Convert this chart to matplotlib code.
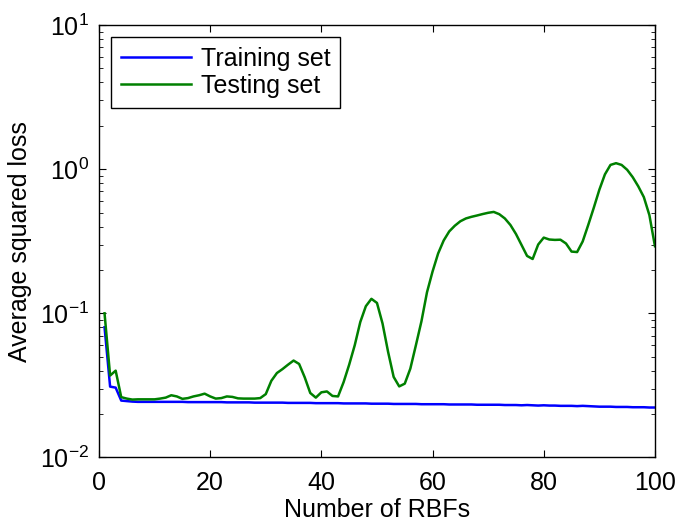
import numpy as np
import matplotlib
matplotlib.use("Agg")
import matplotlib.pyplot as plt
from matplotlib.ticker import LogLocator, LogFormatterMathtext, NullFormatter

plt.rcParams['font.family'] = ['Liberation Sans', 'DejaVu Sans']
plt.rcParams['mathtext.fontset'] = 'custom'
plt.rcParams['mathtext.rm'] = 'Liberation Sans'
plt.rcParams['mathtext.it'] = 'Liberation Sans'
plt.rcParams['mathtext.default'] = 'regular'

# number of RBFs
n_rbf = np.arange(1, 101)

# average squared loss on the training set
train_loss = [
    0.0800, 0.0310, 0.0305, 0.0248, 0.0246, 0.0244, 0.0243, 0.0243, 0.0243, 0.0243,
    0.0243, 0.0243, 0.0243, 0.0243, 0.0243, 0.0242, 0.0242, 0.0242, 0.0242, 0.0242,
    0.0242, 0.0242, 0.0241, 0.0241, 0.0241, 0.0241, 0.0241, 0.0240, 0.0240, 0.0240,
    0.0240, 0.0240, 0.0240, 0.0239, 0.0239, 0.0239, 0.0239, 0.0239, 0.0238, 0.0238,
    0.0238, 0.0238, 0.0238, 0.0237, 0.0237, 0.0237, 0.0237, 0.0237, 0.0236, 0.0236,
    0.0236, 0.0236, 0.0235, 0.0235, 0.0235, 0.0235, 0.0235, 0.0234, 0.0234, 0.0234,
    0.0234, 0.0234, 0.0233, 0.0233, 0.0233, 0.0233, 0.0233, 0.0232, 0.0232, 0.0232,
    0.0232, 0.0232, 0.0231, 0.0231, 0.0231, 0.0230, 0.0231, 0.0230, 0.0229, 0.0230,
    0.0229, 0.0229, 0.0228, 0.0228, 0.0228, 0.0227, 0.0228, 0.0227, 0.0226, 0.0225,
    0.0225, 0.0225, 0.0224, 0.0224, 0.0224, 0.0223, 0.0223, 0.0223, 0.0222, 0.0222,
]

# average squared loss on the testing set
test_loss = [
    0.1000, 0.0370, 0.0400, 0.0262, 0.0256, 0.0252, 0.0253, 0.0253, 0.0253, 0.0253,
    0.0256, 0.0260, 0.0270, 0.0265, 0.0255, 0.0258, 0.0265, 0.0270, 0.0277, 0.0265,
    0.0256, 0.0258, 0.0265, 0.0263, 0.0257, 0.0256, 0.0256, 0.0256, 0.0258, 0.0275,
    0.0340, 0.0385, 0.0410, 0.0440, 0.0470, 0.0445, 0.0360, 0.0280, 0.0260, 0.0283,
    0.0287, 0.0267, 0.0265, 0.0333, 0.0440, 0.0600, 0.0870, 0.1120, 0.1260, 0.1180,
    0.0850, 0.0540, 0.0362, 0.0311, 0.0325, 0.0413, 0.0600, 0.0880, 0.1400, 0.1950,
    0.2600, 0.3200, 0.3700, 0.4050, 0.4350, 0.4550, 0.4670, 0.4770, 0.4880, 0.4980,
    0.5050, 0.4870, 0.4550, 0.4100, 0.3550, 0.2980, 0.2500, 0.2380, 0.3000, 0.3350,
    0.3250, 0.3230, 0.3240, 0.3050, 0.2680, 0.2660, 0.3150, 0.4100, 0.5400, 0.7200,
    0.9200, 1.0700, 1.1000, 1.0700, 0.9900, 0.8800, 0.7600, 0.6400, 0.4800, 0.2920,
]

fig = plt.figure(figsize=(6.78, 5.21), dpi=100)
ax = fig.add_axes([0.146, 0.122, 0.820, 0.830])

ax.semilogy(n_rbf, train_loss, color='#0000ff', lw=1.8, label='Training set')
ax.semilogy(n_rbf, test_loss, color='#008000', lw=1.8, label='Testing set')

ax.set_xlim(0, 100)
ax.set_ylim(1e-2, 1e1)
ax.set_xticks([0, 20, 40, 60, 80, 100])
ax.yaxis.set_major_locator(LogLocator(base=10, numticks=10))
ax.yaxis.set_major_formatter(LogFormatterMathtext())
ax.yaxis.set_minor_locator(LogLocator(base=10, subs=np.arange(2, 10), numticks=10))
ax.yaxis.set_minor_formatter(NullFormatter())

ax.tick_params(which='both', direction='in', top=True, right=True, labelsize=18)
ax.tick_params(axis='y', pad=7)
ax.tick_params(axis='x', pad=10)
ax.tick_params(which='major', length=5, width=0.8)
ax.tick_params(which='minor', length=3, width=0.6)
for s in ax.spines.values():
    s.set_linewidth(1.0)

ax.set_xlabel('Number of RBFs', fontsize=18, labelpad=2)
ax.set_ylabel('Average squared loss', fontsize=18, labelpad=6)

leg = ax.legend(loc='upper left', bbox_to_anchor=(0.021, 0.973), fontsize=18,
                fancybox=False, framealpha=1, edgecolor='black',
                handlelength=2.8, handletextpad=0.4, borderpad=0.4,
                labelspacing=0.12, borderaxespad=0)
leg.get_frame().set_linewidth(1.0)

fig.savefig('out.png', dpi=100)
